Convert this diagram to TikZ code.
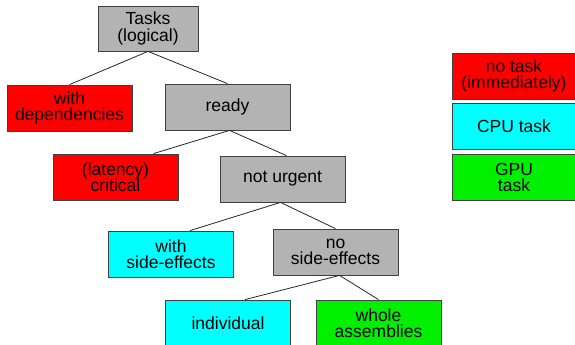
\documentclass[tikz,border=0pt]{standalone}
\usepackage{fontspec}
\setmainfont{Liberation Sans}
\definecolor{cy}{RGB}{0,255,255}
\definecolor{gr}{RGB}{0,240,0}
\definecolor{gy}{RGB}{179,179,179}
\begin{document}
\begin{tikzpicture}[x=1pt,y=-1pt,
  box/.style={draw=black!75, line width=0.8pt, minimum width=125pt, minimum height=46pt,
    inner sep=0pt, align=center, font=\fontsize{17.5}{16.5}\selectfont},
  gray/.style={box, fill=gy},
  redb/.style={box, fill=red},
  cyanb/.style={box, fill=cy},
  greenb/.style={box, fill=gr},
  conn/.style={draw=black!85, line width=0.8pt}]
\useasboundingbox (0,0) rectangle (575,345);
\node[gray, minimum width=100pt, minimum height=45pt] (tasks) at (148,28.5) {Tasks\\(logical)};
\node[redb] (wdep) at (69.5,108) {with\\dependencies};
\node[gray] (ready) at (227.5,107) {ready};
\node[redb] (crit) at (115.5,177) {(latency)\\critical};
\node[gray] (nurg) at (282.5,179) {not urgent};
\node[cyanb] (wside) at (171,254) {with\\side-effects};
\node[gray] (nside) at (335.5,252) {no\\side-effects};
\node[cyanb] (indiv) at (228,323) {individual};
\node[greenb] (whole) at (378.5,323) {whole\\assemblies};
\node[redb, minimum width=124pt] (lnt) at (514,76) {no task\\(immediately)};
\node[cyanb, minimum width=124pt] (lcpu) at (514,126.5) {CPU task};
\node[greenb, minimum width=124pt] (lgpu) at (514,177.5) {GPU\\task};
\draw[conn] (tasks.south) -- (wdep.north);
\draw[conn] (tasks.south) -- (ready.north);
\draw[conn] ([xshift=2pt]ready.south) -- ([xshift=38pt]crit.north);
\draw[conn] ([xshift=2pt]ready.south) -- ([xshift=4pt]nurg.north);
\draw[conn] ([xshift=-2pt]nurg.south) -- ([xshift=19pt]wside.north);
\draw[conn] ([xshift=-2pt]nurg.south) -- (nside.north);
\draw[conn] ([xshift=4pt]nside.south) -- ([xshift=17pt]indiv.north);
\draw[conn] ([xshift=4pt]nside.south) -- (whole.north);
\end{tikzpicture}
\end{document}
